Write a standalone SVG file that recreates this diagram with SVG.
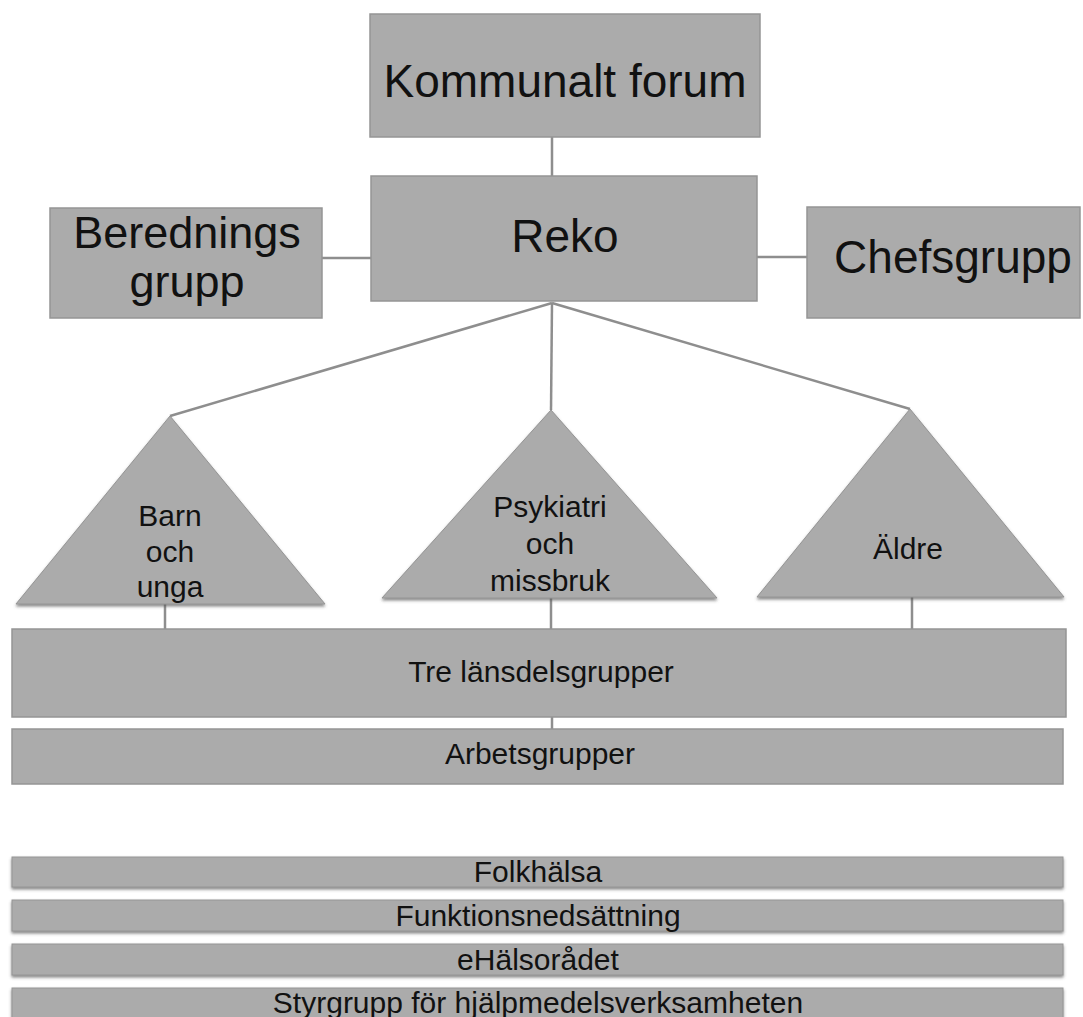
<svg xmlns="http://www.w3.org/2000/svg" width="1083" height="1017" viewBox="0 0 1083 1017">
<defs>
<filter id="sh" x="-5%" y="-20%" width="110%" height="160%">
<feDropShadow dx="0" dy="2" stdDeviation="1.5" flood-color="#555" flood-opacity="0.7"/>
</filter>
<style>
.box{fill:#ababab;stroke:#959595;stroke-width:1.5}
.tri{fill:#ababab;stroke:#959595;stroke-width:1}
.bar{fill:#ababab;stroke:#959595;stroke-width:1}
.big{font-family:"Liberation Sans",Arial,sans-serif;font-size:46px;fill:#111;text-anchor:middle}
.two{font-family:"Liberation Sans",Arial,sans-serif;font-size:45px;fill:#111;text-anchor:middle}
.mid{font-family:"Liberation Sans",Arial,sans-serif;font-size:30px;fill:#111;text-anchor:middle}
.con{stroke:#8e8e8e;stroke-width:2.5;fill:none}
</style>
</defs>
<rect width="1083" height="1017" fill="#ffffff"/>
<g id="connectors">
<line class="con" x1="552" y1="137" x2="552" y2="176"/>
<line class="con" x1="322" y1="258" x2="371" y2="258"/>
<line class="con" x1="757" y1="257" x2="807" y2="257"/>
<line class="con" x1="552" y1="303" x2="170" y2="416"/>
<line class="con" x1="552" y1="303" x2="551" y2="410"/>
<line class="con" x1="552" y1="303" x2="910" y2="409"/>
<line class="con" x1="165" y1="604" x2="165" y2="629"/>
<line class="con" x1="551" y1="598" x2="551" y2="629"/>
<line class="con" x1="912" y1="597" x2="912" y2="629"/>
<line class="con" x1="552" y1="717" x2="552" y2="729"/>
</g>
<g id="kommunalt-forum">
<rect class="box" x="370" y="14" width="390" height="123"/>
<text class="big" x="565" y="97">Kommunalt forum</text>
</g>
<g id="reko">
<rect class="box" x="371" y="176" width="386" height="125"/>
<text class="big" x="565" y="252">Reko</text>
</g>
<g id="beredningsgrupp">
<rect class="box" x="50" y="208" width="272" height="110"/>
<text class="two" x="187" y="248">Berednings</text>
<text class="two" x="187" y="297">grupp</text>
</g>
<g id="chefsgrupp">
<rect class="box" x="807" y="207" width="273" height="111"/>
<text class="big" x="953" y="273">Chefsgrupp</text>
</g>
<g id="barn-och-unga">
<polygon class="tri" filter="url(#sh)" points="170,416 16,604 325,604"/>
<text class="mid" x="170" y="526">Barn</text>
<text class="mid" x="170" y="562">och</text>
<text class="mid" x="170" y="597">unga</text>
</g>
<g id="psykiatri-och-missbruk">
<polygon class="tri" filter="url(#sh)" points="551,410 382,598 717,598"/>
<text class="mid" x="550" y="517">Psykiatri</text>
<text class="mid" x="550" y="554">och</text>
<text class="mid" x="550" y="591">missbruk</text>
</g>
<g id="aldre">
<polygon class="tri" filter="url(#sh)" points="910,409 757,597 1064,597"/>
<text class="mid" x="908" y="559">Äldre</text>
</g>
<g id="tre-lansdelsgrupper">
<rect class="box" x="12" y="629" width="1054" height="88"/>
<text class="mid" x="541" y="682">Tre länsdelsgrupper</text>
</g>
<g id="arbetsgrupper">
<rect class="box" x="12" y="729" width="1051" height="55"/>
<text class="mid" x="540" y="764">Arbetsgrupper</text>
</g>
<g id="folkhalsa">
<rect class="bar" filter="url(#sh)" x="12" y="857" width="1051" height="30"/>
<text class="mid" x="538" y="882">Folkhälsa</text>
</g>
<g id="funktionsnedsattning">
<rect class="bar" filter="url(#sh)" x="12" y="900" width="1051" height="31"/>
<text class="mid" x="538" y="926">Funktionsnedsättning</text>
</g>
<g id="ehalsoradet">
<rect class="bar" filter="url(#sh)" x="12" y="944" width="1051" height="31"/>
<text class="mid" x="538" y="970">eHälsorådet</text>
</g>
<g id="styrgrupp">
<rect class="bar" filter="url(#sh)" x="12" y="988" width="1051" height="40"/>
<text class="mid" x="538" y="1013">Styrgrupp för hjälpmedelsverksamheten</text>
</g>
</svg>
